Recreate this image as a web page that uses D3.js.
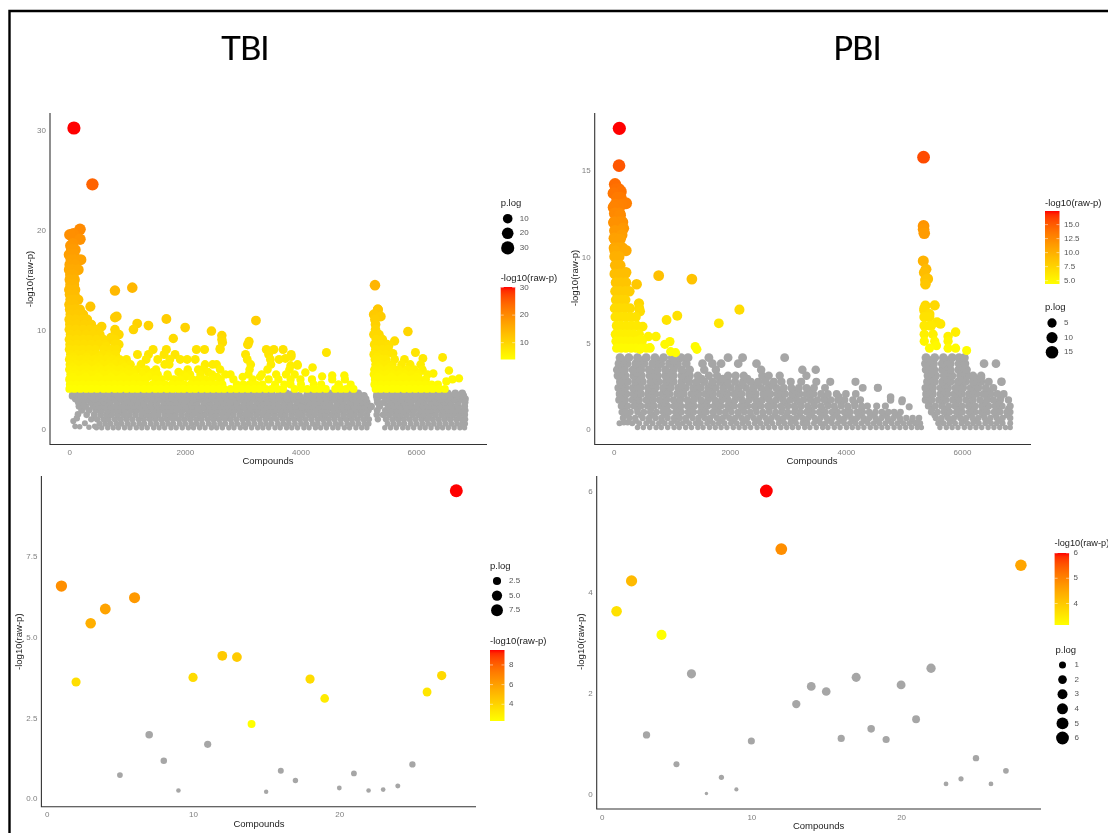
<!DOCTYPE html>
<html>
<head>
<meta charset="utf-8">
<script src="https://cdn.jsdelivr.net/npm/d3@7"></script>
<style>
  html, body { margin: 0; padding: 0; background: #fff; overflow: hidden; }
  svg { display: block; filter: blur(0.4px); }
  text { font-family: "Liberation Sans", Arial, sans-serif; }
  .title { font-family: Lato, "Open Sans", sans-serif; font-size: 33px; letter-spacing: -0.9px; fill: #000; stroke: #000; stroke-width: 0.15px; }
</style>
</head>
<body>
<svg id="chart" width="1108" height="833"></svg>
<script>
// Panel data. Rows are [y, [x, x, ...]], hits are [x, y]

// TBI, all compounds: below the threshold (grey)
const tbiRestRows = [
  [0.15, [470,560,665,760,850,955,1050,1160,1255,1350,1460,1555,1650,1760,1850,1955,2060,2150,2255,2350,2460,2550,2650,2760,2850,2960,3050,3155,3260,3350,3450,3560,3650,3760,3850,3950,4060,4150,4260,4350,4450,4560,4650,4760,4850,4960,5060,5150,5460,5560,5660,5770,5860,5960,6070,6160,6260,6370,6460,6560,6660,6760,6840]],
  [0.55, [520,620,715,820,905,1010,1105,1210,1300,1410,1505,1610,1710,1800,1910,2005,2110,2205,2300,2410,2505,2610,2700,2810,2905,3010,3105,3205,3310,3405,3500,3610,3705,3800,3905,4010,4100,4210,4300,4410,4505,4610,4700,4810,4905,5005,5110,5180,5510,5610,5710,5800,5910,6010,6110,6210,6310,6410,6510,6610,6710,6800,6850]],
  [1.0, [380,480,590,680,790,890,990,1090,1200,1290,1395,1490,1590,1690,1795,1895,1990,2090,2195,2290,2395,2490,2590,2695,2790,2890,2995,3090,3190,3290,3395,3490,3590,3695,3790,3890,3990,4090,4190,4295,4390,4490,4590,4695,4790,4890,4990,5090,5185,5340,5480,5590,5690,5790,5890,5990,6095,6190,6290,6390,6490,6590,6695,6790,6850]],
  [1.45, [300,430,540,640,735,840,945,1040,1145,1250,1345,1445,1540,1650,1745,1840,1945,2050,2140,2245,2345,2450,2540,2645,2745,2840,2950,3045,3140,3245,3345,3440,3545,3650,3740,3845,3945,4040,4150,4245,4345,4440,4545,4640,4745,4845,4940,5045,5150,5320,5430,5535,5640,5740,5840,5945,6050,6140,6240,6340,6445,6540,6640,6745,6845]],
  [1.9, [215,340,460,560,665,770,870,960,1070,1170,1270,1365,1470,1575,1670,1770,1870,1965,2075,2170,2270,2375,2470,2570,2675,2770,2870,2965,3070,3170,3270,3375,3470,3570,3670,3770,3875,3970,4070,4170,4275,4370,4470,4575,4670,4770,4875,4970,5070,5175,5330,5470,5570,5670,5770,5870,5970,6075,6170,6270,6370,6470,6575,6670,6770,6850]],
  [2.3, [170,280,410,510,615,720,820,920,1015,1120,1220,1320,1420,1525,1625,1725,1820,1925,2025,2125,2220,2325,2425,2525,2620,2725,2825,2925,3020,3125,3225,3325,3425,3525,3625,3725,3825,3925,4025,4125,4225,4325,4425,4520,4625,4725,4825,4925,5025,5125,5225,5370,5520,5620,5720,5825,5925,6025,6125,6225,6325,6420,6525,6625,6725,6840]],
  [2.7, [160,250,370,490,600,710,830,950,1060,1180,1290,1410,1520,1640,1750,1870,1980,2100,2210,2330,2440,2560,2670,2790,2900,3020,3130,3250,3360,3480,3590,3710,3820,3940,4050,4170,4280,4400,4510,4630,4740,4860,4970,5090,5150,5335,5450,5570,5680,5800,5910,6030,6140,6260,6370,6490,6600,6720,6845]],
  [3.05, [110,210,320,430,550,660,780,890,1010,1120,1240,1350,1470,1580,1700,1810,1930,2040,2160,2270,2390,2500,2620,2730,2850,2960,3080,3190,3310,3420,3540,3650,3770,3880,4000,4110,4230,4340,4460,4570,4690,4800,4920,5030,5130,5330,5510,5630,5740,5860,5970,6090,6200,6320,6430,6550,6660,6780,6850]],
  [3.35, [55,150,270,385,500,620,730,850,965,1080,1200,1310,1430,1545,1660,1780,1890,2010,2125,2240,2360,2470,2590,2705,2820,2940,3050,3170,3285,3400,3520,3630,3750,3865,3980,4110,4210,4330,4445,4560,4680,4790,4910,5025,5100,5320,5430,5550,5665,5780,5900,6010,6130,6245,6360,6480,6590,6710,6820]],
  [3.6, [70,170,300,420,545,660,790,910,1030,1160,1280,1400,1530,1650,1770,1900,2020,2150,2270,2390,2520,2640,2760,2890,3010,3130,3260,3380,3500,3640,3760,3880,4130,4250,4380,4500,4620,4750,4870,5000,5330,5440,5570,5690,5810,5940,6060,6180,6310,6430,6550,6680,6800]]
];
const tbiRestExtra = [[70,0.83],[100,0.3],[180,0.25],[270,0.6],[340,0.2],[440,0.3],[130,1.1],[150,1.5],[5225,2.26],[4030,2.2]];

// TBI, all compounds: coloured hits, dense part first
const tbiHitRows = [
  [4.05, [0,90,190,290,380,480,590,680,790,880,990,1090,1180,1290,1380,1490,1580,1690,1790,1890,1980,2090,2180,2290,2390,2490,2590,2680,2790,2890,2990,3090,3200,3290,3400,3500,3600,3700,3900,4020,4120,4240,4330,4440,4600,4700,4790,4920,5300,5390,5490,5590,5680,5790,5890,5990,6090,6190,6290,6400,6500]],
  [4.5, [10,120,230,340,450,560,670,780,890,1000,1110,1220,1330,1440,1550,1660,1770,1880,1990,2100,2210,2320,2430,2540,2650,2900,3010,3120,3230,3340,3560,3720,3830,4010,4230,4360,4660,4870,5280,5390,5500,5610,5720,5830,5940,6050,6160,6270,6380]],
  [5.0, [0,100,210,320,430,540,650,760,870,980,1090,1200,1310,1490,1600,1810,1920,2130,2240,2350,2460,2620,2840,3170,3450,3620,3830,4000,4200,4550,4770,5290,5400,5510,5620,5730,5840,5950,6060,6170,6630]],
  [5.25, [60,280,500,720,930,1150,1370,1710,2020,2560,3000,3300,5340,5570,5780,6010]],
  [5.5, [20,130,240,350,460,570,680,790,900,1010,1120,1260,1410,1530,1700,1970,2090,2270,2470,2700,2790,3100,3330,3580,3750,3900,5270,5380,5490,5600,5710,5820,5930,6040,6200]],
  [5.75, [70,290,510,730,950,1100,1280,1450,1890,2400,5330,5550,5770]],
  [6.0, [0,110,220,330,440,550,660,770,880,1030,1170,1330,1500,2050,2230,2300,2610,3120,3430,3810,5280,5390,5500,5610,5700,5850,5970,6110]],
  [6.25, [60,280,500,720,950,5350,5560]],
  [6.5, [10,120,230,340,450,560,670,780,920,1060,1240,1650,1730,2350,2480,2550,3140,3490,3950,5300,5400,5510,5590,5750,5900,6080]],
  [6.75, [60,290,500,700,820,5340]],
  [7.0, [0,100,210,320,430,540,640,760,870,990,1330,1530,1740,1920,2040,2180,3080,3480,3630,5290,5400,5480,5630,5800]],
  [7.25, [70,300,510,680,5330]],
  [7.5, [20,130,240,350,470,580,690,800,1180,1370,1640,1830,3050,3450,3840,5270,5380,5480]],
  [8.0, [0,110,230,340,450,600,730,820,1450,1680,2200,2340,2610,3410,3540,3700,5300,5420,5520]],
  [8.5, [10,130,250,380,510,620,790,860,3090,5280,5390,5500]],
  [9.0, [0,120,240,340,470,590,710,790,2640,5310,5420]],
  [9.5, [20,140,290,410,530,790,860,5270,5360]],
  [10.0, [0,110,240,350,470,790,1110,5300]],
  [10.5, [10,130,260,380,5300]],
  [11.0, [0,110,230,310,5290]],
  [11.5, [20,130,240,5270]],
  [12.0, [10,100,185,5340]],
  [12.5, [0,80]],
  [13.0, [20,90,155]],
  [13.5, [10,90]],
  [14.0, [0,100]],
  [14.5, [20,80]],
  [15.0, [10,90]],
  [15.5, [20,70]],
  [16.0, [0,60,155]],
  [16.5, [10,100]],
  [17.0, [30,90,200]],
  [17.5, [0,80]],
  [18.0, [40,100]]
];
const tbiHits = [
  [80,30.2],[400,24.55],[185,20.05],[70,19.6],[10,19.5],[185,19.05],[60,18.6],[25,18.4],
  [790,13.9],[1090,14.2],[365,12.3],[820,11.3],[790,11.2],[560,10.3],[370,10.5],[1175,10.6],
  [1370,10.4],[1680,11.05],[2005,10.2],[1800,9.1],[2460,9.85],[2640,9.4],[2650,8.7],[2610,8.1],
  [3230,10.9],[3110,8.8],[3090,8.5],[640,8.3],[470,9.9],[720,9.2],[5290,14.45],[5340,12.0],
  [5390,11.3],[5860,9.8],[5630,8.85],[5530,8.4],[5990,7.7],[5600,7.6],[6120,7.1],[6460,7.2],
  [4450,7.7],[3840,7.3],[3740,7.1],[6570,5.9],[6300,5.6],[6110,5.9],[4210,6.2],[3950,6.4],
  [3830,6.4],[4085,5.7],[4375,5.3],[4550,5.4],[4760,5.4],[6745,5.1],[6525,4.8],[4660,4.5]
];

// PBI, all compounds: below the threshold (grey)
const pbiRestRows = [
  [0.1, [410,510,620,730,820,930,1040,1130,1240,1340,1450,1540,1650,1750,1850,1950,2060,2160,2260,2360,2470,2570,2670,2770,2880,2980,3080,3180,3290,3380,3490,3600,3690,3800,3900,4010,4110,4210,4310,4420,4520,4620,4720,4830,4930,5030,5130,5230,5300,5620,5730,5830,5930,6040,6140,6240,6340,6450,6550,6650,6750,6830]],
  [0.35, [320,440,560,670,780,880,990,1100,1190,1300,1410,1500,1610,1710,1810,1910,2020,2120,2220,2320,2430,2530,2630,2730,2840,2940,3040,3140,3250,3340,3450,3560,3650,3760,3860,3970,4070,4170,4270,4380,4480,4580,4680,4790,4890,4990,5090,5190,5280,5590,5680,5780,5880,5990,6090,6190,6290,6400,6500,6600,6700,6830]],
  [0.5, [380,610,830,1050,1250,1460,1660,1860,2070,2270,2480,2680,2890,3090,3300,3510,3710,3910,4120,4320,4530,4730,4940,5140,5640,5840,6040,6240,6450,6650]],
  [0.65, [160,270,370,500,610,720,820,930,1040,1140,1240,1360,1460,1570,1660,1780,1880,1990,2090,2200,2300,2410,2510,2620,2720,2830,2930,3040,3140,3250,3350,3460,3560,3670,3770,3880,3980,4090,4190,4300,4400,4510,4610,4720,4820,4930,5040,5150,5260,5550,5650,5760,5860,5970,6070,6180,6280,6390,6490,6600,6700,6830]],
  [0.82, [230,470,680,880,1100,1310,1520,1720,1930,2150,2360,2570,2780,2980,3200,3400,3610,3830,4030,4240,4450,4660,4880,5530,5740,5950,6160,6370,6580,6780]],
  [1.0, [140,290,410,520,630,740,850,950,1060,1170,1280,1380,1490,1600,1710,1820,1920,2030,2140,2250,2350,2460,2570,2680,2790,2890,3000,3110,3220,3320,3430,3540,3650,3760,3860,3970,4080,4190,4290,4400,4510,4620,4730,4830,4940,5470,5580,5690,5790,5900,6010,6120,6230,6330,6440,6550,6660,6770,6830]],
  [1.18, [190,410,640,860,1090,1320,1550,1770,2000,2230,2450,2680,2900,3130,3360,3590,3810,4040,4270,5480,5700,5930,6160,6380,6610,6800]],
  [1.35, [130,240,350,470,580,700,810,930,1040,1160,1270,1390,1500,1620,1730,1850,1960,2080,2190,2310,2420,2540,2650,2770,2880,3000,3110,3230,3340,3460,3570,3690,3800,3920,4030,4150,4270,4370,4530,4680,5420,5540,5650,5770,5880,6000,6110,6230,6340,6460,6570,6690,6830]],
  [1.52, [150,380,620,860,1090,1330,1570,1800,2030,2270,2500,2740,2980,3210,3450,3680,3920,4150,5430,5660,5900,6130,6370,6600]],
  [1.7, [90,200,320,440,560,680,790,910,1030,1150,1270,1380,1500,1620,1740,1860,1970,2090,2210,2330,2450,2560,2680,2800,2920,3040,3150,3270,3390,3510,3630,3740,3860,3980,4120,4250,4770,4970,5370,5480,5600,5720,5840,5950,6070,6190,6310,6430,6540,6660,6800]],
  [1.88, [160,400,650,900,1150,1400,1640,1890,2140,2390,2640,2880,3130,3380,3630,3880,5430,5680,5930,6180,6430,6670]],
  [2.05, [100,220,340,470,590,720,840,960,1090,1210,1340,1460,1580,1710,1830,1960,2080,2200,2330,2450,2580,2700,2820,2950,3070,3200,3320,3440,3570,3690,3840,4000,4170,5380,5500,5630,5750,5870,6000,6120,6250,6370,6490,6610,6720]],
  [2.22, [160,410,660,910,1150,1400,1650,1900,2140,2390,2640,2880,3130,3380,5440,5690,5940,6190,6430]],
  [2.4, [80,200,330,460,590,720,850,980,1110,1240,1370,1500,1630,1760,1890,2020,2150,2280,2410,2540,2670,2800,2930,3060,3190,3320,3450,3640,4290,4550,5370,5500,5630,5760,5890,6020,6150,6280,6410,6540]],
  [2.58, [140,400,660,910,1170,1430,1690,1950,2210,2470,2730,5430,5700,5960,6220]],
  [2.75, [110,240,370,500,640,770,900,1030,1170,1300,1430,1560,1700,1830,1960,2090,2230,2360,2490,2620,2760,2890,3050,3230,3490,3730,4165,5400,5530,5660,5800,5930,6060,6190,6330,6460,6680]],
  [2.92, [130,410,690,960,1240,1510,1880,2300,5470,5740,6010,6260]],
  [3.1, [70,200,340,480,620,760,890,1030,1170,1310,1450,1640,1780,1970,2100,2240,2560,2670,2860,3320,5410,5550,5690,5830,5970,6100,6330,6190]],
  [3.28, [130,400,680,960,1240,5470,5750,6010]],
  [3.45, [60,190,330,470,610,750,890,1030,1170,1310,1560,1760,2540,3480,3250,5380,5520,5660,5800,5940,6080]],
  [3.62, [150,450,750,1040,5440,5730,5990]],
  [3.8, [90,230,380,520,670,810,960,1100,1250,1530,1700,1850,2145,2460,5370,5510,5660,5800,5950,6050,6380,6585]],
  [3.98, [170,450,740,1030,5450,5740]],
  [4.15, [110,260,410,560,710,860,1010,1160,1280,1640,1970,2220,2945,5380,5530,5680,5830,5950,6040]]
];
const pbiRestExtra = [[100,0.35],[175,0.4],[240,0.4],[200,1.0],[5225,0.4],[4550,2.41],[4770,1.87],[4965,1.6],[5090,1.3],[6680,2.76],[6330,3.0]];

// PBI, all compounds: coloured hits
const pbiHitRows = [
  [4.7, [50,130,210,300,380,470,560,625,5440,5760,5890]],
  [5.1, [40,120,200,290,390,490,5350,5530,5760]],
  [5.5, [30,110,190,270,350,440,5350,5500]],
  [6.0, [50,130,220,310,400,5350,5440,5470]],
  [6.5, [30,120,200,290,380,5350,5440]],
  [7.0, [20,100,190,280,440,5350]],
  [7.5, [40,120,200]],
  [8.0, [30,110,200,270]],
  [8.5, [40,120,210]],
  [9.0, [20,100,190]],
  [9.5, [30,110]],
  [10.0, [20,90]],
  [10.5, [10,80,150]],
  [11.0, [30,110]],
  [11.5, [20,130]],
  [12.0, [10,90,150]],
  [12.5, [20,100]],
  [13.0, [30,130]],
  [13.4, [60,120]],
  [13.9, [40,90]]
];
const pbiHits = [
  [97,17.43],[92,15.27],[23,14.19],[0,13.67],[120,13.76],[212,13.09],[0,12.86],[80,12.9],[110,12.4],
  [5,11.97],[166,11.64],[138,11.25],[10,11.06],[23,10.33],[212,10.35],[212,9.09],[395,8.4],[775,8.9],
  [1347,8.7],[435,7.3],[453,6.83],[911,6.33],[1095,6.58],[2166,6.93],[1811,6.14],[500,5.95],[728,5.37],
  [596,5.37],[470,5.2],[968,5.08],[882,4.92],[1404,4.79],[1433,4.63],[980,4.5],[1066,4.44],[625,4.73],
  [453,4.63],[5338,15.76],[5338,11.78],[5338,11.58],[5350,11.35],[5333,9.75],[5380,9.27],[5350,9.08],
  [5410,8.71],[5370,8.65],[5370,8.4],[5370,7.16],[5530,7.18],[5350,6.88],[5440,6.68],[5570,6.2],
  [5630,6.1],[5890,5.63],[5760,5.38],[5560,4.84],[6080,4.56]
];

// Compounds 1..28 of the two lower panels
const tbiSubset = [6.57,3.6,5.42,5.86,0.72,6.21,1.97,1.16,0.24,3.74,1.67,4.41,4.37,2.3,0.2,0.85,0.55,3.69,3.09,0.32,0.77,0.24,0.27,0.38,1.05,3.29,3.8,9.52];
const pbiSubset = [3.62,4.22,1.17,3.15,0.59,2.38,0.01,0.33,0.09,1.05,6.0,4.85,1.78,2.13,2.03,1.1,2.31,1.29,1.08,2.16,1.48,2.49,0.2,0.3,0.71,0.2,0.46,4.53];

const xTicksAll = [0,2000,4000,6000];
const xTicksSubset = [0,10,20];
const tbiTicks = [0,10,20,30];
const pbiTicks = [0,5,10,15];
const tbiSubsetTicks = [0,2.5,5,7.5];
const pbiSubsetTicks = [0,2,4,6];

function fromRows(rows, extra) {
  const pts = [];
  rows.forEach(r => r[1].forEach(x => pts.push([x, r[0]])));
  return pts.concat(extra);
}

const svg = d3.select('#chart');
const grey = '#a6a6a6';

// Frame round the figure
svg.append('path')
  .attr('d', 'M9.5,833V11H1108')
  .attr('fill', 'none')
  .attr('stroke', '#000')
  .attr('stroke-width', 2.4);

svg.append('text').attr('class', 'title').attr('x', 245).attr('y', 59.5).attr('text-anchor', 'middle').text('TBI');
svg.append('text').attr('class', 'title').attr('x', 857).attr('y', 59.5).attr('text-anchor', 'middle').text('PBI');

function drawPanel(p) {
  const g = svg.append('g');
  const x = d3.scaleLinear().domain(p.xDomain).range(p.xRange);
  const y = d3.scaleLinear().domain(p.yDomain).range(p.yRange);
  const size = d3.scaleSqrt().domain([0, p.colorDomain[1]]).range(p.sizeRange);
  const colorT = d3.scaleLinear().domain(p.colorDomain).range([0, 1]).clamp(true);
  const lab = d3.interpolateLab('#ffff00', '#ff0000');
  const color = v => lab(colorT(v));

  // grey points first, the coloured ones lie on top
  g.append('g').selectAll('circle')
    .data(p.rest).join('circle')
    .attr('cx', d => x(d[0]))
    .attr('cy', d => y(d[1]))
    .attr('r', d => size(d[1]))
    .attr('fill', grey);

  g.append('g').selectAll('circle')
    .data(p.hits.slice().sort((a, b) => b[1] - a[1])).join('circle')
    .attr('cx', d => x(d[0]))
    .attr('cy', d => y(d[1]))
    .attr('r', d => size(d[1]))
    .attr('fill', d => color(d[1]));

  // axis lines are longer than the scales' ticks, so they are drawn apart
  g.append('path')
    .attr('d', `M${p.frame.left},${p.frame.top}V${p.frame.bottom}H${p.frame.right}`)
    .attr('fill', 'none')
    .attr('stroke', '#333')
    .attr('stroke-width', 1.1);

  const xAxis = d3.axisBottom(x).tickValues(p.xTicks).tickSize(0).tickFormat(d3.format('d'));
  const xG = g.append('g').attr('transform', `translate(0,${p.frame.bottom + 2})`).call(xAxis);
  const yAxis = d3.axisLeft(y).tickValues(p.yTicks).tickSize(0).tickFormat(p.yFormat);
  const yG = g.append('g').attr('transform', `translate(${p.frame.left - 1},0)`).call(yAxis);
  [xG, yG].forEach(a => {
    a.select('.domain').remove();
    a.selectAll('text').attr('fill', '#7f7f7f').style('font-size', '8px');
  });

  g.append('text')
    .attr('x', p.xTitle[0]).attr('y', p.xTitle[1])
    .attr('text-anchor', 'middle').attr('dominant-baseline', 'middle')
    .style('font-size', '9.5px').attr('fill', '#222')
    .text('Compounds');

  g.append('text')
    .attr('transform', `translate(${p.yTitle[0]},${p.yTitle[1]}) rotate(-90)`)
    .attr('text-anchor', 'middle').attr('dominant-baseline', 'middle')
    .style('font-size', '9.5px').attr('fill', '#222')
    .text('-log10(raw-p)');

  // size legend
  const sl = p.sizeLegend;
  g.append('text').attr('x', sl.x).attr('y', sl.titleY)
    .attr('dominant-baseline', 'middle').style('font-size', '9.5px').attr('fill', '#222').text('p.log');
  const sizeItems = g.append('g').selectAll('g').data(sl.values).join('g');
  sizeItems.append('circle')
    .attr('cx', sl.x + 7)
    .attr('cy', (d, i) => sl.y0 + i * 14.6)
    .attr('r', d => size(d))
    .attr('fill', '#000');
  sizeItems.append('text')
    .attr('x', sl.x + 19)
    .attr('y', (d, i) => sl.y0 + i * 14.6)
    .attr('dominant-baseline', 'middle')
    .style('font-size', '8px').attr('fill', '#555')
    .text(d => sl.format(d));

  // colour bar
  const cl = p.colorLegend;
  g.append('text').attr('x', cl.x).attr('y', cl.titleY)
    .attr('dominant-baseline', 'middle').style('font-size', cl.titleSize || '9.5px').attr('fill', '#222').text('-log10(raw-p)');
  const grad = svg.append('defs').append('linearGradient')
    .attr('id', p.id).attr('x1', 0).attr('x2', 0).attr('y1', 1).attr('y2', 0);
  grad.selectAll('stop').data(d3.range(0, 1.001, 0.05)).join('stop')
    .attr('offset', d => d)
    .attr('stop-color', d => lab(d));
  g.append('rect')
    .attr('x', cl.x).attr('y', cl.top)
    .attr('width', 14.5).attr('height', cl.bottom - cl.top)
    .attr('fill', `url(#${p.id})`);
  const barY = d3.scaleLinear().domain(p.colorDomain).range([cl.bottom, cl.top]);
  const barItems = g.append('g').selectAll('g').data(cl.values).join('g');
  barItems.append('path')
    .attr('d', d => `M${cl.x},${barY(d)}h3M${cl.x + 11.5},${barY(d)}h3`)
    .attr('stroke', '#fff').attr('stroke-width', 0.5);
  barItems.append('text')
    .attr('x', cl.x + 19)
    .attr('y', d => barY(d))
    .attr('dominant-baseline', 'middle')
    .style('font-size', '8px').attr('fill', '#555')
    .text(d => cl.format(d));
}

const one = d3.format('.1f');
const plain = d3.format('d');

drawPanel({
  id: 'gradTbi', rest: fromRows(tbiRestRows, tbiRestExtra), hits: fromRows(tbiHitRows, tbiHits),
  xDomain: [0, 6000], xRange: [69.3, 416], yDomain: [0, 30], yRange: [429.3, 130],
  xTicks: xTicksAll, yTicks: tbiTicks, yFormat: plain,
  colorDomain: [3.9, 30.2], sizeRange: [2.4, 6.6],
  frame: { left: 50, top: 113, bottom: 444.5, right: 487 },
  xTitle: [268, 461.7], yTitle: [30, 279],
  sizeLegend: { x: 500.7, titleY: 203, y0: 218.7, values: [10, 20, 30], format: plain },
  colorLegend: { x: 500.7, titleY: 278, top: 287, bottom: 359.5, values: [10, 20, 30], format: plain }
});

drawPanel({
  id: 'gradPbi', rest: fromRows(pbiRestRows, pbiRestExtra), hits: fromRows(pbiHitRows, pbiHits),
  xDomain: [0, 6000], xRange: [613.7, 962], yDomain: [0, 15], yRange: [429.3, 170.3],
  xTicks: xTicksAll, yTicks: pbiTicks, yFormat: plain,
  colorDomain: [4.4, 17.43], sizeRange: [2.4, 6.6],
  frame: { left: 594.7, top: 113, bottom: 444.5, right: 1031 },
  xTitle: [812, 461.7], yTitle: [575, 278],
  sizeLegend: { x: 1045, titleY: 307, y0: 323, values: [5, 10, 15], format: plain },
  colorLegend: { x: 1045, titleY: 203, top: 211, bottom: 284, values: [5, 7.5, 10, 12.5, 15], format: one }
});

const subsetX = d3.range(1, 29);

drawPanel({
  id: 'gradTbiSub',
  rest: tbiSubset.map((v, i) => [subsetX[i], v]).filter(d => d[1] < 2.2),
  hits: tbiSubset.map((v, i) => [subsetX[i], v]).filter(d => d[1] >= 2.2),
  xDomain: [0, 20], xRange: [46.8, 339.3], yDomain: [0, 7.5], yRange: [798.3, 556],
  xTicks: xTicksSubset, yTicks: tbiSubsetTicks, yFormat: one,
  colorDomain: [2.3, 9.52], sizeRange: [1.5, 6.5],
  frame: { left: 41.4, top: 476, bottom: 806.7, right: 476 },
  xTitle: [259, 824], yTitle: [19.6, 641.7],
  sizeLegend: { x: 490, titleY: 566, y0: 581, values: [2.5, 5, 7.5], format: one },
  colorLegend: { x: 490, titleY: 641, top: 650, bottom: 721, values: [4, 6, 8], format: plain }
});

drawPanel({
  id: 'gradPbiSub',
  rest: pbiSubset.map((v, i) => [subsetX[i], v]).filter(d => d[1] < 3),
  hits: pbiSubset.map((v, i) => [subsetX[i], v]).filter(d => d[1] >= 3),
  xDomain: [0, 20], xRange: [601.6, 901.1], yDomain: [0, 6], yRange: [794, 491],
  xTicks: xTicksSubset, yTicks: pbiSubsetTicks, yFormat: plain,
  colorDomain: [3.15, 6], sizeRange: [1.5, 6.4],
  frame: { left: 596.7, top: 476, bottom: 809, right: 1041 },
  xTitle: [818.6, 826], yTitle: [581, 641.7],
  sizeLegend: { x: 1055.5, titleY: 650, y0: 665, values: [1, 2, 3, 4, 5, 6], format: plain },
  colorLegend: { x: 1054.6, titleY: 544, top: 553, bottom: 625, values: [4, 5, 6], format: plain, titleSize: '9.2px' }
});
</script>
</body>
</html>
